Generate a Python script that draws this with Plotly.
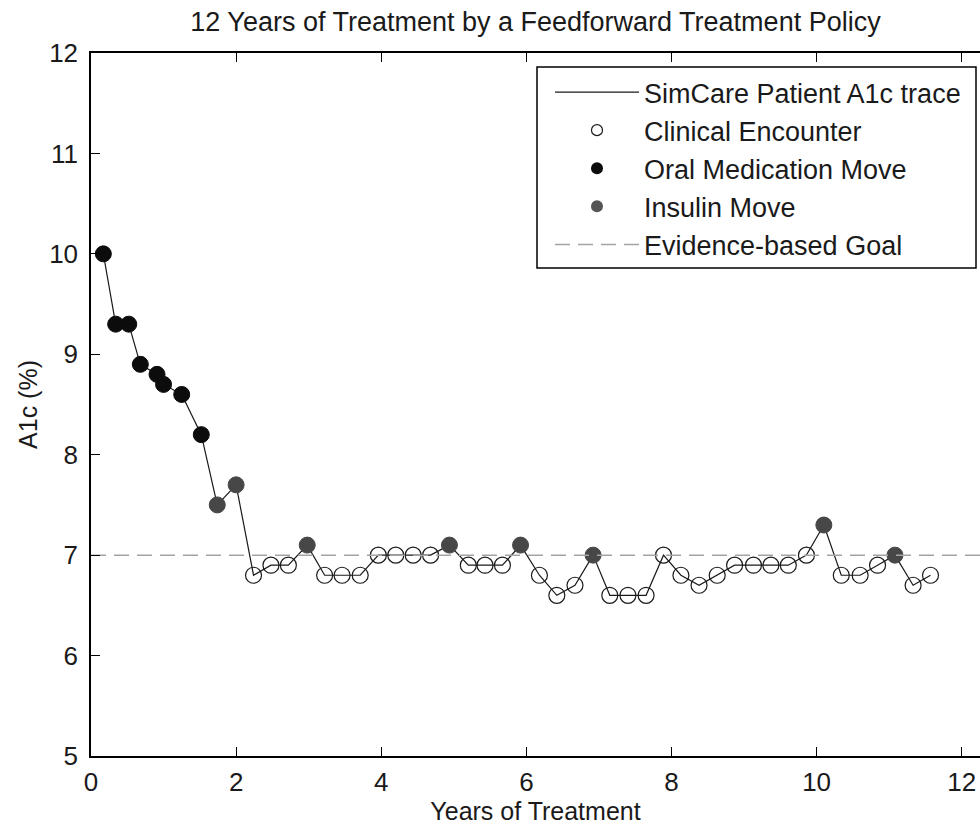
import plotly.graph_objects as go

# Quarterly A1c readings for one simulated patient
years = [0.17, 0.34, 0.52, 0.68, 0.91, 1.00, 1.25, 1.52, 1.74, 2.00,
         2.24, 2.48, 2.72, 2.98, 3.22, 3.46, 3.71, 3.96, 4.20, 4.44,
         4.68, 4.94, 5.20, 5.43, 5.67, 5.92, 6.18, 6.42, 6.67, 6.92,
         7.15, 7.40, 7.65, 7.89, 8.13, 8.38, 8.63, 8.87, 9.13, 9.37,
         9.61, 9.86, 10.10, 10.34, 10.60, 10.84, 11.08, 11.33, 11.57]
a1c = [10.0, 9.3, 9.3, 8.9, 8.8, 8.7, 8.6, 8.2, 7.5, 7.7,
       6.8, 6.9, 6.9, 7.1, 6.8, 6.8, 6.8, 7.0, 7.0, 7.0,
       7.0, 7.1, 6.9, 6.9, 6.9, 7.1, 6.8, 6.6, 6.7, 7.0,
       6.6, 6.6, 6.6, 7.0, 6.8, 6.7, 6.8, 6.9, 6.9, 6.9,
       6.9, 7.0, 7.3, 6.8, 6.8, 6.9, 7.0, 6.7, 6.8]
# What happened at each encounter: "enc" = visit only, "oral" / "insulin" = treatment move
events = ["oral"] * 8 + ["insulin", "insulin",
          "enc", "enc", "enc", "insulin", "enc", "enc", "enc", "enc", "enc", "enc",
          "enc", "insulin", "enc", "enc", "enc", "insulin", "enc", "enc", "enc", "insulin",
          "enc", "enc", "enc", "enc", "enc", "enc", "enc", "enc", "enc", "enc",
          "enc", "enc", "insulin", "enc", "enc", "enc", "insulin", "enc", "enc"]
goal_a1c = 7.0
x_ticks = [0, 2, 4, 6, 8, 10, 12]
y_ticks = [5, 6, 7, 8, 9, 10, 11, 12]

FONT = "Liberation Sans, Arial, Helvetica, sans-serif"
INK = "#1a1a1a"
ORAL_COLOR = "#0c0c0c"
INSULIN_COLOR = "#474747"
GOAL_COLOR = "#a3a3a3"

W, H = 980, 829
M_L, M_R, M_T, M_B = 91, 0, 53, 73
PLOT_W = W - M_L - M_R
PLOT_H = H - M_T - M_B


def px_to_paper_x(px):
    return (px - M_L) / PLOT_W


def px_to_paper_y(py):
    return 1 - (py - M_T) / PLOT_H


def pick(kind):
    xs = [x for x, e in zip(years, events) if e == kind]
    ys = [y for y, e in zip(a1c, events) if e == kind]
    return xs, ys


fig = go.Figure()

# Patient trace
fig.add_trace(go.Scatter(x=years, y=a1c, mode="lines",
                         line=dict(color=INK, width=1.2),
                         showlegend=False, hoverinfo="skip"))

enc_x, enc_y = pick("enc")
fig.add_trace(go.Scatter(x=enc_x, y=enc_y, mode="markers",
                         marker=dict(symbol="circle-open", size=16, color=INK,
                                     line=dict(color=INK, width=1.2)),
                         showlegend=False))

oral_x, oral_y = pick("oral")
fig.add_trace(go.Scatter(x=oral_x, y=oral_y, mode="markers",
                         marker=dict(symbol="circle", size=16, color=ORAL_COLOR,
                                     line=dict(color=ORAL_COLOR, width=1)),
                         showlegend=False))

ins_x, ins_y = pick("insulin")
fig.add_trace(go.Scatter(x=ins_x, y=ins_y, mode="markers",
                         marker=dict(symbol="circle", size=16, color=INSULIN_COLOR,
                                     line=dict(color=INSULIN_COLOR, width=1)),
                         showlegend=False))

# Goal line across the whole axis
fig.add_trace(go.Scatter(x=[0, 12.3], y=[goal_a1c, goal_a1c], mode="lines",
                         line=dict(color=GOAL_COLOR, width=1.5, dash="15px,8px"),
                         showlegend=False, hoverinfo="skip"))

# Legend entries (smaller symbols than the plotted markers)
legend_items = [
    dict(name="SimCare Patient A1c trace", mode="lines",
         line=dict(color=INK, width=1.2)),
    dict(name="Clinical Encounter", mode="markers",
         marker=dict(symbol="circle-open", size=11, color=INK,
                     line=dict(color=INK, width=1.2))),
    dict(name="Oral Medication Move", mode="markers",
         marker=dict(symbol="circle", size=12, color=ORAL_COLOR)),
    dict(name="Insulin Move", mode="markers",
         marker=dict(symbol="circle", size=12, color="#555555")),
    dict(name="Evidence-based Goal", mode="lines",
         line=dict(color=GOAL_COLOR, width=1.5, dash="15px,8px")),
]
for i, item in enumerate(legend_items):
    fig.add_trace(go.Scatter(x=[None], y=[None], legendgroup=f"g{i}",
                             showlegend=True, **item))

axis_common = dict(
    showgrid=False, zeroline=False, showline=True, linecolor="black",
    linewidth=1.5, ticks="inside", ticklen=9, tickwidth=1.2, tickcolor="black",
    tickfont=dict(family=FONT, size=26, color=INK),
)

# Legend frame
box_l, box_r, box_t, box_b = 537, 976, 67, 268
fig.add_shape(type="rect", xref="paper", yref="paper",
              x0=px_to_paper_x(box_l), x1=px_to_paper_x(box_r),
              y0=px_to_paper_y(box_b), y1=px_to_paper_y(box_t),
              line=dict(color="black", width=1.5), fillcolor="white",
              layer="above")

fig.update_layout(
    width=W, height=H,
    margin=dict(l=M_L, r=M_R, t=M_T, b=M_B),
    paper_bgcolor="white", plot_bgcolor="white",
    font=dict(family=FONT, color=INK),
    title=dict(text="12 Years of Treatment by a Feedforward Treatment Policy",
               font=dict(family=FONT, size=27, color=INK),
               x=0.5, xref="paper", xanchor="center",
               y=1 - 22 / H, yref="container", yanchor="middle"),
    xaxis=dict(range=[0, 12.252], tickvals=x_ticks, mirror="ticks",
               ticklabelstandoff=2,
               title=dict(text="Years of Treatment",
                          font=dict(family=FONT, size=25, color=INK), standoff=6),
               automargin=False, **axis_common),
    yaxis=dict(range=[5, 12], tickvals=y_ticks, mirror=False,
               ticklabelstandoff=6,
               title=dict(text="A1c (%)",
                          font=dict(family=FONT, size=25, color=INK), standoff=4),
               automargin=False, **axis_common),
    legend=dict(x=px_to_paper_x(box_l + 13), y=px_to_paper_y(box_t + 1), xanchor="left",
                yanchor="top", bgcolor="rgba(0,0,0,0)", borderwidth=0,
                font=dict(family=FONT, size=27, color=INK),
                itemwidth=84, tracegroupgap=0, traceorder="grouped",
                itemsizing="trace"),
    showlegend=True,
)

fig.write_html("out.html")
